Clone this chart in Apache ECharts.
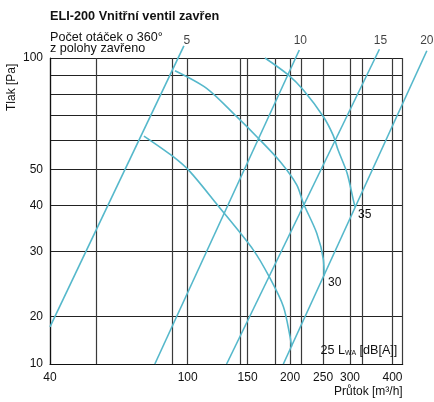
<!DOCTYPE html>
<html><head><meta charset="utf-8">
<script src="https://cdn.jsdelivr.net/npm/echarts@6/dist/echarts.min.js"></script>
<style>html,body{margin:0;padding:0;background:#fff}#c{width:434px;height:402px}</style>
</head><body><div id="c"></div>
<script>
// Axis ranges (log scales)
const xMin = 39.4, xMax = 428.6;
const yMin = 14.89, yMax = 100;
const xGridValues = [39.4, 54, 90, 100, 143, 150, 181, 200, 216, 250, 300, 326, 400, 428.6];
const xLabelValues = [39.4, 100, 150, 200, 250, 300, 400];
const xLabelTexts = ['40', '100', '150', '200', '250', '300', '400'];
const yGridValues = [14.89, 20, 30, 40, 50, 60, 70, 80, 90, 100];
const yLabelValues = [14.89, 20, 30, 40, 50, 100];
const yLabelTexts = ['10', '20', '30', '40', '50', '100'];

// Valve setting lines (number of turns), [flow m3/h, pressure Pa]
const turnNames = ['5', '10', '15', '20'];
const turn5 = [[39.4, 18.75], [97.5, 107.8]];
const turn10 = [[80.1, 14.89], [212.9, 105.1]];
const turn15 = [[130.2, 14.89], [366.1, 105.6]];
const turn20 = [[191.1, 14.89], [504.7, 104.6]];
const turnOffsets = [[3, 2], [1, -2], [1, -2], [0, -3]];

// Noise level curves LWA dB(A)
const noise25 = [[74.4, 61.5], [90.7, 54.1], [101.6, 49.3], [122.2, 40.1], [155.9, 30.3], [174.6, 25.4], [191.1, 21.3], [199.9, 17.7], [202.0, 16.6]];
const noise30 = [[91.8, 92.4], [113.7, 82.8], [139.4, 69.4], [161.3, 60.7], [186.9, 52.5], [209.2, 45.4], [218.8, 40.5], [239.6, 33.6], [250.6, 28.5], [251.7, 25.8]];
const noise35 = [[168.8, 100], [197.6, 90], [218.8, 81.9], [250.6, 69.4], [267.6, 61.9], [276.8, 56.4], [294.1, 48.9], [306.9, 41.3], [310.5, 39.6]];

const FONT = '"Liberation Sans", Arial, sans-serif';
const CURVE = '#55b8cb';

function pick(values, texts, v) {
  for (let i = 0; i < values.length; i++) {
    if (Math.abs(Math.log(v / values[i])) < 0.01) return texts[i];
  }
  return '';
}

function items(points, label) {
  return points.map((p, i) => (i === points.length - 1 && label)
    ? { value: p, label: Object.assign({ show: true, color: '#111', fontFamily: FONT, fontSize: 12 }, label) }
    : { value: p });
}

const lineBase = {
  type: 'line', clip: false, symbol: 'circle', symbolSize: 0, showSymbol: true,
  lineStyle: { color: CURVE, width: 1.6 }, itemStyle: { color: CURVE },
  emphasis: { disabled: true }, silent: true, animation: false, z: 5
};

const turns = [turn5, turn10, turn15, turn20];
const series = [];
// straight setting lines, drawn unclipped (they run past the plot frame)
series.push({
  type: 'lines', coordinateSystem: 'cartesian2d', polyline: true, clip: false, silent: true, animation: false, z: 5,
  lineStyle: { color: CURVE, width: 1.6, opacity: 1, curveness: 0 },
  data: turns.map((pts, i) => ({ name: turnNames[i], coords: pts }))
});
// labels at the top end of each setting line
series.push({
  type: 'scatter', clip: false, symbolSize: 0, silent: true, animation: false, z: 6,
  itemStyle: { color: CURVE },
  data: turns.map((pts, i) => ({
    value: pts[pts.length - 1],
    label: { show: true, position: 'top', distance: 1, offset: turnOffsets[i], formatter: turnNames[i], color: '#111', fontFamily: FONT, fontSize: 12 }
  }))
});
series.push(Object.assign({}, lineBase, {
  name: '25', smooth: 0.3,
  data: items(noise25, {
    position: 'right', distance: 29, offset: [0, 4], fontSize: 12.6, formatter: '25 L{sub|WA} [dB[A]]',
    rich: { sub: { fontSize: 7, padding: [6, 0, 0, 0], fontFamily: FONT, color: '#111' } }
  })
}));
series.push(Object.assign({}, lineBase, {
  name: '30', smooth: 0.3,
  data: items(noise30, { position: 'right', distance: 4, offset: [0, 7], formatter: '30' })
}));
series.push(Object.assign({}, lineBase, {
  name: '35', smooth: 0.3,
  data: items(noise35, { position: 'right', distance: 3, offset: [0, 8], formatter: '35' })
}));

const chart = echarts.init(document.getElementById('c'), null, { renderer: 'canvas' });
chart.setOption({
  animation: false,
  backgroundColor: '#fff',
  textStyle: { fontFamily: FONT },
  grid: { left: 50, right: 31.3, top: 58, bottom: 38, containLabel: false },
  xAxis: {
    type: 'log', logBase: 10, min: xMin, max: xMax,
    name: 'Průtok [m³/h]', nameLocation: 'end', nameGap: 0,
    nameTextStyle: { align: 'right', verticalAlign: 'top', padding: [22, 0, 0, 0], fontSize: 12, color: '#111', fontFamily: FONT },
    axisLine: { show: true, lineStyle: { color: '#111', width: 1.2 } },
    axisTick: { show: false, customValues: xGridValues },
    axisLabel: { customValues: xLabelValues, formatter: v => pick(xLabelValues, xLabelTexts, v), fontSize: 12, color: '#111', margin: 8, fontFamily: FONT },
    splitLine: { show: true, showMinLine: true, showMaxLine: true, lineStyle: { color: '#3a3a3a', width: 1.2 } }
  },
  yAxis: {
    type: 'log', logBase: 10, min: yMin, max: yMax,
    axisLine: { show: true, lineStyle: { color: '#111', width: 1.2 } },
    axisTick: { show: false, customValues: yGridValues },
    axisLabel: { customValues: yLabelValues, formatter: v => pick(yLabelValues, yLabelTexts, v), fontSize: 12, color: '#111', margin: 7, fontFamily: FONT },
    splitLine: { show: true, showMinLine: true, showMaxLine: true, lineStyle: { color: '#222', width: 1 } }
  },
  graphic: [
    { type: 'text', left: 50, top: 10, style: { text: 'ELI-200 Vnitřní ventil zavřen', font: 'bold 12.7px ' + FONT, fill: '#111' } },
    { type: 'text', left: 50, top: 31, style: { text: 'Počet otáček o 360°\nz polohy zavřeno', font: '12.6px ' + FONT, fill: '#111', lineHeight: 11.5 } },
    { type: 'text', x: 6, y: 111, rotation: Math.PI / 2, style: { text: 'Tlak [Pa]', font: '12px ' + FONT, fill: '#111', verticalAlign: 'top' } }
  ],
  series: series
});
</script></body></html>
